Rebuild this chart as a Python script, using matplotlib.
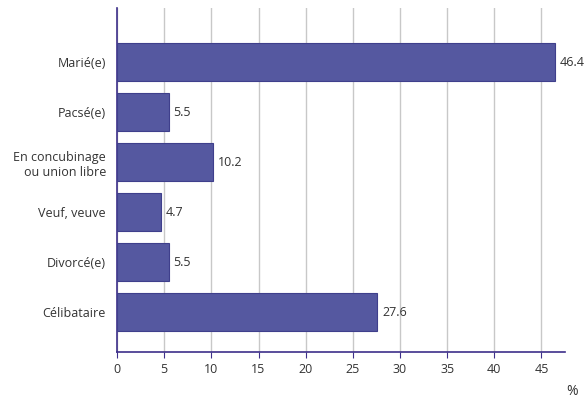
import matplotlib.pyplot as plt

categories = ['Célibataire', 'Divorcé(e)', 'Veuf, veuve', 'En concubinage\nou union libre', 'Pacsé(e)', 'Marié(e)']
values = [27.6, 5.5, 4.7, 10.2, 5.5, 46.4]
labels = ['27.6', '5.5', '4.7', '10.2', '5.5', '46.4']

plt.rcParams['font.family'] = ['Open Sans', 'DejaVu Sans']
fig = plt.figure(figsize=(5.88, 4.09), dpi=100)
ax = fig.add_axes([0.199, 0.139, 0.762, 0.841])

ypos = range(len(categories))
ax.barh(ypos, values, height=0.76, color='#5558a0', edgecolor='#3f3f8c', linewidth=0.8, zorder=3)
for y, v, t in zip(ypos, values, labels):
    ax.text(v + 0.5, y, t, va='center', ha='left', fontsize=9, color='#333333')

ax.set_yticks(list(ypos))
ax.set_yticklabels(categories, fontsize=9, color='#333333')
ax.set_xticks(range(0, 50, 5))
ax.tick_params(axis='x', labelsize=9, colors='#333333', length=4, color='#3d2f8a')
ax.tick_params(axis='y', length=0, pad=8)
ax.set_xlim(0, 47.5)
ax.set_ylim(-0.8, 6.08)
ax.grid(axis='x', color='#c8c8c8', linewidth=1, zorder=0)
for s in ['top', 'right']:
    ax.spines[s].set_visible(False)
for s in ['left', 'bottom']:
    ax.spines[s].set_color('#3d2f8a')
    ax.spines[s].set_linewidth(1.2)
fig.text(0.973, 0.035, '%', fontsize=10, color='#333333', ha='center')

fig.savefig('out.png', dpi=100)
